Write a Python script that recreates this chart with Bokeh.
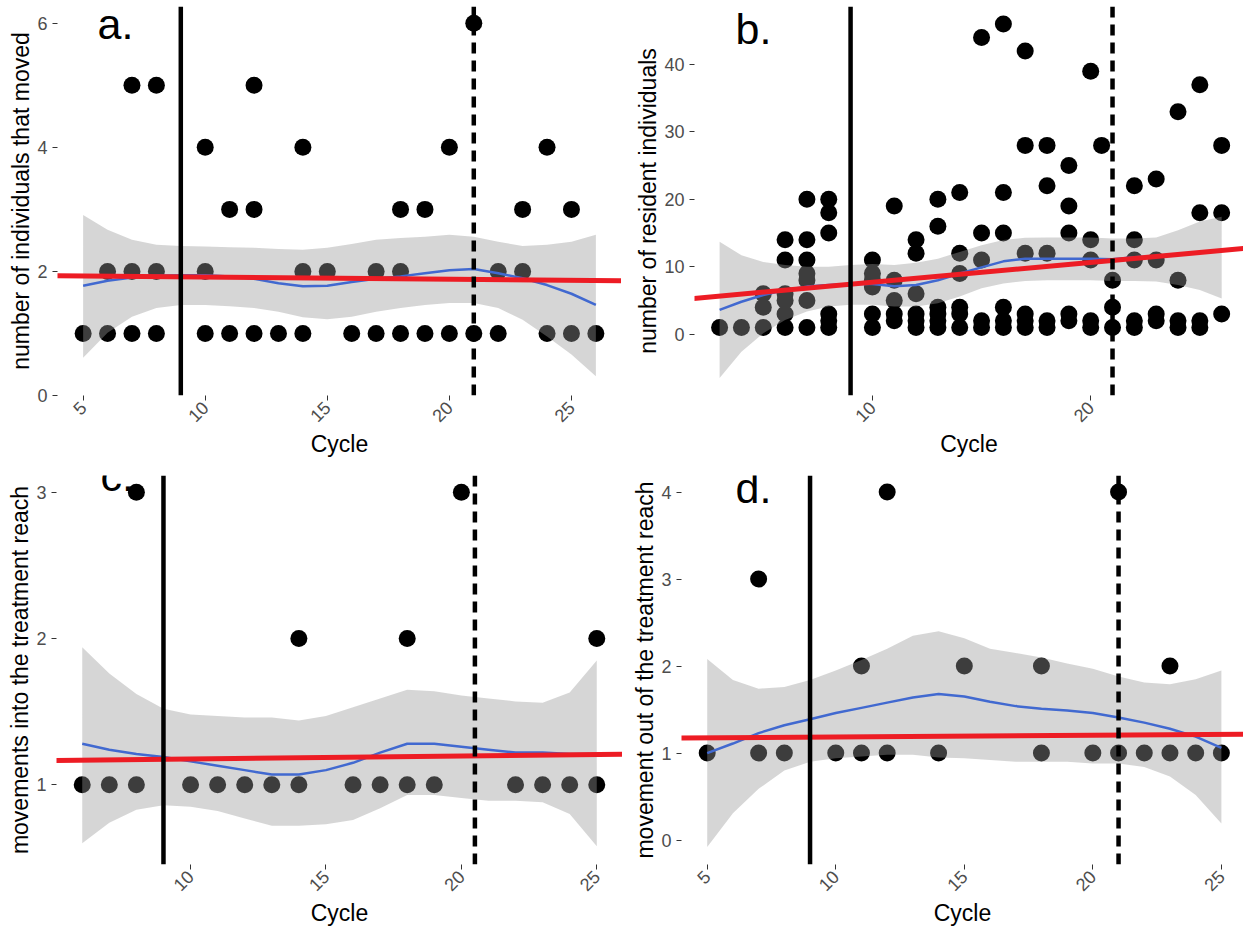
import math
from bokeh.plotting import figure
from bokeh.models import Span, Slope, Label, FixedTicker, Range1d
from bokeh.layouts import column, row
from bokeh.embed import file_html
from bokeh.resources import INLINE

FONT = "Liberation Sans"

# ---------------- panel a: number of individuals that moved ----------------
a_cycle = [5, 6, 6, 7, 7, 7, 8, 8, 8, 10, 10, 10, 11, 11, 12, 12, 12, 13, 14, 14, 14,
           15, 16, 17, 17, 18, 18, 18, 19, 19, 20, 20, 21, 21, 22, 22, 23, 23, 24, 24,
           25, 25, 26]
a_value = [1, 1, 2, 1, 2, 5, 1, 2, 5, 1, 2, 4, 1, 3, 1, 3, 5, 1, 1, 2, 4,
           2, 1, 1, 2, 1, 2, 3, 1, 3, 1, 4, 1, 6, 1, 2, 2, 3, 1, 4,
           1, 3, 1]
a_fit_x = list(range(5, 27))
a_fit = [1.77, 1.85, 1.90, 1.93, 1.94, 1.94, 1.92, 1.88, 1.81, 1.76, 1.77, 1.83, 1.88,
         1.92, 1.97, 2.02, 2.04, 1.97, 1.89, 1.78, 1.64, 1.46]
a_lo = [0.61, 1.01, 1.27, 1.41, 1.46, 1.46, 1.44, 1.41, 1.35, 1.26, 1.23, 1.27, 1.35,
        1.41, 1.46, 1.49, 1.49, 1.41, 1.22, 0.95, 0.66, 0.31]
a_hi = [2.91, 2.67, 2.51, 2.43, 2.41, 2.40, 2.39, 2.38, 2.36, 2.35, 2.38, 2.44, 2.51,
        2.54, 2.56, 2.59, 2.56, 2.48, 2.41, 2.43, 2.48, 2.59]
a_lm_intercept, a_lm_slope = 1.944, -0.0035

# ---------------- panel b: number of resident individuals ----------------
b_cycle = [3, 4, 5, 5, 5, 6, 6, 6, 6, 6, 6, 7, 7, 7, 7, 7, 7, 7, 8, 8, 8, 8, 8, 8,
           10, 10, 10, 10, 10, 10, 11, 11, 11, 11, 11, 12, 12, 12, 12, 12, 12,
           13, 13, 13, 13, 13, 13, 14, 14, 14, 14, 14, 14, 15, 15, 15, 15, 15,
           16, 16, 16, 16, 16, 16, 17, 17, 17, 17, 17, 17, 18, 18, 18, 18, 18,
           19, 19, 19, 19, 19, 20, 20, 20, 20, 20, 20.5, 21, 21, 21,
           22, 22, 22, 22, 22, 23, 23, 23, 23, 24, 24, 24, 24, 25, 25, 25, 25,
           26, 26, 26]
b_value = [1, 1, 1, 4, 6, 1, 3, 5, 6, 11, 14, 1, 5, 8, 9, 11, 14, 20, 1, 2, 3, 15, 18, 20,
           1, 3, 7, 8, 9, 11, 2, 3, 5, 8, 19, 1, 2, 3, 6, 12, 14,
           1, 2, 3, 4, 16, 20, 1, 3, 4, 9, 12, 21, 1, 2, 11, 15, 44,
           1, 2, 4, 15, 21, 46, 1, 2, 3, 12, 28, 42, 1, 2, 12, 22, 28,
           2, 3, 15, 19, 25, 1, 2, 11, 14, 39, 28, 1, 4, 8,
           1, 2, 11, 14, 22, 2, 3, 11, 23, 1, 2, 8, 33, 1, 2, 18, 37,
           3, 18, 28]
b_fit_x = list(range(3, 27))
b_fit = [3.6, 4.8, 5.8, 6.55, 7.05, 7.3, 7.45, 7.45, 7.1, 7.3, 8.0, 9.0, 9.9, 10.8,
         11.2, 11.2, 11.2, 11.2, 11.1, 11.4, 11.6, 11.9, 12.1, 12.5]
b_lo = [-6.5, -2.6, 0.15, 2.1, 3.35, 4.1, 4.35, 4.35, 4.1, 4.1, 4.6, 5.6, 6.8, 7.5,
        7.9, 8.0, 8.0, 8.0, 7.9, 7.9, 7.8, 7.3, 6.55, 5.3]
b_hi = [13.7, 11.7, 10.7, 10.25, 10.0, 10.0, 10.25, 10.4, 10.25, 10.6, 11.2, 12.2,
        13.2, 13.95, 14.3, 14.35, 14.35, 14.35, 14.2, 14.2, 14.35, 15.4, 16.7, 17.4]
b_lm_intercept, b_lm_slope = 4.76, 0.294

# ---------------- panel c: movements into the treatment reach ----------------
c_cycle = [6, 7, 8, 8, 10, 11, 12, 13, 14, 14, 16, 17, 18, 18, 19, 20, 22, 23, 24, 25, 25]
c_value = [1, 1, 1, 3, 1, 1, 1, 1, 1, 2, 1, 1, 1, 2, 1, 3, 1, 1, 1, 1, 2]
c_fit_x = list(range(6, 26))
c_fit = [1.28, 1.24, 1.21, 1.19, 1.16, 1.13, 1.10, 1.07, 1.07, 1.10, 1.15, 1.22, 1.28,
         1.28, 1.26, 1.24, 1.22, 1.22, 1.21, 1.21]
c_lo = [0.60, 0.74, 0.83, 0.86, 0.85, 0.82, 0.77, 0.72, 0.72, 0.73, 0.76, 0.84, 0.93,
        0.93, 0.91, 0.89, 0.89, 0.88, 0.80, 0.58]
c_hi = [1.94, 1.76, 1.62, 1.52, 1.48, 1.47, 1.46, 1.46, 1.44, 1.47, 1.53, 1.59, 1.65,
        1.64, 1.61, 1.59, 1.57, 1.56, 1.63, 1.85]
c_lm_intercept, c_lm_slope = 1.155, 0.0021

# ---------------- panel d: movement out of the treatment reach ----------------
d_cycle = [5, 7, 7, 8, 10, 11, 11, 12, 12, 14, 15, 18, 18, 20, 21, 21, 22, 23, 23, 24, 25]
d_value = [1, 1, 3, 1, 1, 1, 2, 1, 4, 1, 2, 1, 2, 1, 1, 4, 1, 1, 2, 1, 1]
d_fit_x = list(range(5, 26))
d_fit = [1.00, 1.11, 1.23, 1.32, 1.39, 1.46, 1.52, 1.58, 1.64, 1.68, 1.65, 1.59, 1.54,
         1.51, 1.49, 1.46, 1.41, 1.35, 1.28, 1.19, 1.06]
d_lo = [-0.08, 0.31, 0.59, 0.80, 0.90, 0.94, 0.96, 0.98, 0.98, 0.95, 0.94, 0.92, 0.90,
        0.90, 0.90, 0.88, 0.88, 0.84, 0.73, 0.52, 0.19]
d_hi = [2.08, 1.84, 1.74, 1.76, 1.84, 1.95, 2.07, 2.20, 2.35, 2.40, 2.32, 2.20, 2.15,
        2.10, 2.03, 1.97, 1.88, 1.81, 1.79, 1.85, 1.95]
d_lm_intercept, d_lm_slope = 1.167, 0.0019

# treatment start (solid) and end (dashed) cycles
a_vlines = (9, 21)
b_vlines = (9, 21)
c_vlines = (9, 20.5)
d_vlines = (9, 21)

x_label = "Cycle"

OVERLAP = 24  # bottom row canvas slides up under the top row's transparent margin


def make_panel(cyc, val, fx, fit, lo, hi, lm_i, lm_s, vlines, xr, yr, xticks, yticks,
               ylabel, tag, tag_xy, width, height, bl, br, bt, bb, margin=(0, 0, 0, 0)):
    p = figure(width=width, height=height, x_range=Range1d(*xr), y_range=Range1d(*yr),
               output_backend="svg", toolbar_location=None,
               min_border_left=bl, min_border_right=br, min_border_top=bt,
               min_border_bottom=bb, background_fill_color="white",
               border_fill_color=None, margin=margin)
    p.outline_line_color = None
    p.xgrid.visible = False
    p.ygrid.visible = False

    p.scatter(cyc, val, size=17, fill_color="black", line_color=None)
    p.varea(x=fx, y1=lo, y2=hi, fill_color="#999999", fill_alpha=0.4)
    p.line(fx, fit, line_color="#4169D0", line_width=2.5)

    p.add_layout(Slope(gradient=lm_s, y_intercept=lm_i, line_color="#ED1C24",
                       line_width=5))
    p.add_layout(Span(location=vlines[0], dimension="height", line_color="black",
                      line_width=4.5))
    p.add_layout(Span(location=vlines[1], dimension="height", line_color="black",
                      line_width=4.5, line_dash="11 7"))

    p.add_layout(Label(x=tag_xy[0], y=tag_xy[1], x_units="canvas", y_units="canvas",
                       text=tag, text_font=FONT,
                       text_font_size="43px", text_color="black",
                       text_baseline="alphabetic", text_align="left",
                       level="overlay"))

    p.xaxis.ticker = FixedTicker(ticks=xticks)
    p.yaxis.ticker = FixedTicker(ticks=yticks)
    p.xaxis.axis_label = x_label
    p.yaxis.axis_label = ylabel
    for ax in (p.xaxis[0], p.yaxis[0]):
        ax.axis_line_color = None
        ax.major_tick_line_color = "#333333"
        ax.major_tick_line_width = 1
        ax.major_tick_in = 0
        ax.major_tick_out = 5
        ax.minor_tick_line_color = None
        ax.major_label_text_font = FONT
        ax.major_label_text_font_size = "18px"
        ax.major_label_text_color = "#4D4D4D"
        ax.axis_label_text_font = FONT
        ax.axis_label_text_font_size = "23px"
        ax.axis_label_text_font_style = "normal"
        ax.axis_label_text_color = "black"
    p.xaxis.major_label_orientation = math.pi / 4
    p.xaxis.major_label_standoff = 4
    p.xaxis.axis_label_standoff = 0
    p.yaxis.major_label_standoff = 5
    p.yaxis.axis_label_standoff = 0
    return p


pa = make_panel(a_cycle, a_value, a_fit_x, a_fit, a_lo, a_hi, a_lm_intercept, a_lm_slope,
                a_vlines, (3.95, 27.05), (0.0, 6.27), [5, 10, 15, 20, 25], [0, 2, 4, 6],
                "number of individuals that moved", "a.", (97, 23),
                621, 459, 57, 0, 6, 63)
pb = make_panel(b_cycle, b_value, b_fit_x, b_fit, b_lo, b_hi, b_lm_intercept, b_lm_slope,
                b_vlines, (1.85, 27.0), (-9.1, 48.6), [10, 20], [0, 10, 20, 30, 40],
                "number of resident individuals", "b.", (114, 28),
                622, 459, 73, 0, 6, 63)
pc = make_panel(c_cycle, c_value, c_fit_x, c_fit, c_lo, c_hi, c_lm_intercept, c_lm_slope,
                c_vlines, (5.05, 25.95), (0.455, 3.114), [10, 15, 20, 25], [1, 2, 3],
                "movements into the treatment reach", "c.", (100, 40),
                622, 469 + OVERLAP, 56, 0, 16 + OVERLAP, 63,
                margin=(-OVERLAP, 0, 0, 0))
pd = make_panel(d_cycle, d_value, d_fit_x, d_fit, d_lo, d_hi, d_lm_intercept, d_lm_slope,
                d_vlines, (4.0, 25.86), (-0.28, 4.19), [5, 10, 15, 20, 25], [0, 1, 2, 3, 4],
                "movement out of the treatment reach", "d.", (113, 52),
                621, 469 + OVERLAP, 59, 0, 16 + OVERLAP, 63,
                margin=(-OVERLAP, 0, 0, 0))

layout = column(row(pa, pb), row(pc, pd))
open("out.html", "w").write(file_html(layout, INLINE))
